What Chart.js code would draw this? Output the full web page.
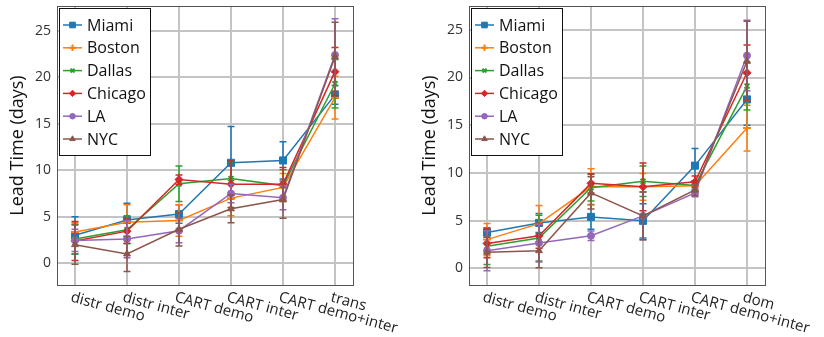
<!DOCTYPE html>
<html>
<head>
<meta charset="utf-8">
<script src="https://cdn.jsdelivr.net/npm/chart.js@4.4.1/dist/chart.umd.min.js"></script>
<style>
  html, body { margin: 0; padding: 0; background: #fff; }
  #wrap { position: relative; width: 824px; height: 337px; }
  canvas { position: absolute; top: 0; }
  #c1 { left: 0; }
  #c2 { left: 412px; }
</style>
</head>
<body>
<div id="wrap">
  <canvas id="c1" width="412" height="337"></canvas>
  <canvas id="c2" width="412" height="337"></canvas>
</div>
<script>
// ---------- data ----------
const categoriesL = ["distr demo", "distr inter", "CART demo", "CART inter", "CART demo+inter", "trans"];
const categoriesR = ["distr demo", "distr inter", "CART demo", "CART inter", "CART demo+inter", "dom"];
const seriesNames = ["Miami", "Boston", "Dallas", "Chicago", "LA", "NYC"];
const yTicks = [0, 5, 10, 15, 20, 25];

// left panel means
const miamiL   = [3.0, 4.65, 5.3, 10.8, 11.05, 18.1];
const bostonL  = [3.35, 4.4, 4.6, 7.0, 8.15, 17.8];
const dallasL  = [2.6, 3.6, 8.55, 9.1, 8.35, 19.3];
const chicagoL = [2.4, 3.45, 9.0, 8.5, 8.5, 20.6];
const laL      = [2.45, 2.6, 3.5, 7.5, 7.05, 22.4];
const nycL     = [2.0, 1.0, 3.65, 5.85, 6.85, 22.2];
// left panel error half-widths
const miamiLErr   = [2.0, 1.8, 1.0, 3.9, 2.0, 1.0];
const bostonLErr  = [1.0, 1.9, 1.7, 1.9, 1.5, 2.3];
const dallasLErr  = [1.6, 1.5, 1.9, 1.8, 1.7, 2.6];
const chicagoLErr = [2.1, 1.3, 0.5, 2.5, 1.8, 2.6];
const laLErr      = [1.2, 2.0, 1.3, 1.0, 1.3, 3.9];
const nycLErr     = [2.1, 1.9, 1.8, 1.5, 2.0, 3.7];

// right panel means
const miamiR   = [3.75, 4.75, 5.38, 4.97, 10.76, 17.7];
const bostonR  = [3.0, 4.67, 8.54, 8.54, 8.65, 14.7];
const dallasR  = [2.3, 3.16, 8.44, 9.13, 8.68, 19.1];
const chicagoR = [2.6, 3.4, 8.9, 8.54, 9.06, 20.5];
const laR      = [1.84, 2.64, 3.4, 5.49, 7.9, 22.3];
const nycR     = [1.67, 1.84, 7.9, 5.49, 8.2, 21.7];
// right panel error half-widths
const miamiRErr   = [0.5, 1.0, 1.3, 1.8, 1.8, 2.7];
const bostonRErr  = [1.7, 1.9, 1.9, 1.4, 0.5, 2.4];
const dallasRErr  = [1.9, 2.4, 1.4, 1.6, 0.5, 2.5];
const chicagoRErr = [1.5, 1.3, 1.0, 2.5, 0.6, 2.9];
const laRErr      = [2.1, 2.0, 0.5, 2.5, 0.4, 3.7];
const nycRErr     = [1.6, 1.8, 1.7, 2.5, 0.6, 4.2];

// ---------- styles ----------
const colors = ["#1f77b4", "#ff7f0e", "#2ca02c", "#d62728", "#9467bd", "#8c564b"];
const markers = ["rect", "cross", "crossRot", "rectRot", "circle", "triangle"];
const radii = [5, 4, 3.5, 4, 3.5, 4];
const FONT = '"Open Sans", "DejaVu Sans", sans-serif';

function buildDatasets(valuesList, errList) {
  return valuesList.map((vals, i) => ({
    label: seriesNames[i],
    data: vals.map((v, k) => ({ x: k, y: v })),
    errors: errList[i],
    borderColor: colors[i],
    backgroundColor: colors[i],
    pointBackgroundColor: colors[i],
    pointBorderColor: colors[i],
    pointStyle: markers[i],
    pointRadius: radii[i],
    pointBorderWidth: (markers[i] === "cross" || markers[i] === "crossRot") ? 2 : 1,
    borderWidth: 1.5,
    tension: 0,
    order: 10 - i
  }));
}

const errorBarPlugin = {
  id: "errorBars",
  afterDatasetDraw(chart, args) {
    const ds = chart.data.datasets[args.index];
    const ys = chart.scales.y, xs = chart.scales.x;
    const ctx = chart.ctx;
    const area = chart.chartArea;
    ctx.save();
    ctx.beginPath();
    ctx.rect(area.left, area.top, area.right - area.left, area.bottom - area.top);
    ctx.clip();
    ctx.strokeStyle = ds.borderColor;
    ctx.lineWidth = 1.5;
    ds.data.forEach((p, k) => {
      const e = ds.errors[k];
      const px = xs.getPixelForValue(p.x);
      const y1 = ys.getPixelForValue(p.y - e);
      const y2 = ys.getPixelForValue(p.y + e);
      ctx.beginPath();
      ctx.moveTo(px, y1); ctx.lineTo(px, y2);
      ctx.moveTo(px - 3.5, y1); ctx.lineTo(px + 3.5, y1);
      ctx.moveTo(px - 3.5, y2); ctx.lineTo(px + 3.5, y2);
      ctx.stroke();
    });
    ctx.restore();
  }
};

const framePlugin = {
  id: "frameLegendLabels",
  afterDraw(chart) {
    const ctx = chart.ctx;
    const a = chart.chartArea;
    const cats = chart.options.plugins.frameLegendLabels.categories;
    // frame
    ctx.save();
    ctx.strokeStyle = "#555";
    ctx.lineWidth = 1;
    ctx.strokeRect(Math.round(a.left) + 0.5, Math.round(a.top) + 0.5,
                   Math.round(a.right - a.left), Math.round(a.bottom - a.top));
    ctx.restore();

    // x labels, rotated clockwise and anchored at tick
    const xs = chart.scales.x;
    ctx.save();
    ctx.font = "15px " + FONT;
    ctx.fillStyle = "#222";
    ctx.textAlign = "left";
    ctx.textBaseline = "top";
    cats.forEach((c, i) => {
      const px = xs.getPixelForValue(i);
      ctx.save();
      ctx.translate(px - 2, a.bottom + 5);
      ctx.rotate(15 * Math.PI / 180);
      ctx.fillText(c, 0, 0);
      ctx.restore();
    });
    ctx.restore();

    // legend
    const bx = a.left + 2, by = a.top + 2, bw = 91, bh = 147;
    ctx.save();
    ctx.fillStyle = "#fff";
    ctx.fillRect(bx, by, bw, bh);
    ctx.strokeStyle = "#111";
    ctx.lineWidth = 1;
    ctx.strokeRect(Math.round(bx) + 0.5, Math.round(by) + 0.5, bw, bh);
    ctx.font = "16px " + FONT;
    ctx.textBaseline = "middle";
    ctx.textAlign = "left";
    chart.data.datasets.forEach((ds, i) => {
      const cy = by + 17 + i * 22.8;
      ctx.strokeStyle = ds.borderColor;
      ctx.lineWidth = 1.5;
      ctx.beginPath();
      ctx.moveTo(bx + 4, cy); ctx.lineTo(bx + 23, cy);
      ctx.stroke();
      ctx.fillStyle = ds.borderColor;
      ctx.lineWidth = ds.pointBorderWidth;
      Chart.helpers.drawPoint(ctx, { pointStyle: ds.pointStyle, radius: ds.pointRadius * 0.8, rotation: 0, borderWidth: ds.pointBorderWidth }, bx + 13.5, cy);
      ctx.fillStyle = "#111";
      ctx.fillText(ds.label, bx + 28, cy + 1);
    });
    ctx.restore();
  }
};

function makeChart(id, cats, valuesList, errList, ymin, ymax) {
  return new Chart(document.getElementById(id), {
    type: "line",
    data: { datasets: buildDatasets(valuesList, errList) },
    options: {
      responsive: false,
      animation: false,
      events: [],
      layout: { padding: { left: 0, right: 59, top: 3, bottom: 0 } },
      scales: {
        x: {
          type: "linear",
          min: -0.346,
          max: 5.346,
          afterFit(s) { s.height = 52; s.paddingLeft = 0; s.paddingRight = 0; },
          afterBuildTicks(s) { s.ticks = cats.map((c, i) => ({ value: i })); },
          ticks: { display: false },
          grid: { color: "#c4c4c4", lineWidth: 2, drawTicks: false },
          border: { display: false }
        },
        y: {
          min: ymin,
          max: ymax,
          afterFit(s) { s.width = 57; s.paddingTop = 0; s.paddingBottom = 0; },
          afterBuildTicks(s) { s.ticks = yTicks.map(v => ({ value: v })); },
          ticks: {
            padding: 6,
            color: "#333",
            font: { family: FONT, size: 14 }
          },
          grid: { color: "#c4c4c4", lineWidth: 2, drawTicks: false },
          border: { display: false },
          title: {
            display: true,
            text: "Lead Time (days)",
            color: "#111",
            font: { family: FONT, size: 18 },
            padding: { top: 7, bottom: 0 }
          }
        }
      },
      plugins: {
        legend: { display: false },
        tooltip: { enabled: false },
        frameLegendLabels: { categories: cats }
      }
    },
    plugins: [errorBarPlugin, framePlugin]
  });
}

makeChart("c1", categoriesL,
  [miamiL, bostonL, dallasL, chicagoL, laL, nycL],
  [miamiLErr, bostonLErr, dallasLErr, chicagoLErr, laLErr, nycLErr],
  -2.34, 27.66);
makeChart("c2", categoriesR,
  [miamiR, bostonR, dallasR, chicagoR, laR, nycR],
  [miamiRErr, bostonRErr, dallasRErr, chicagoRErr, laRErr, nycRErr],
  -1.76, 27.5);
</script>
</body>
</html>
